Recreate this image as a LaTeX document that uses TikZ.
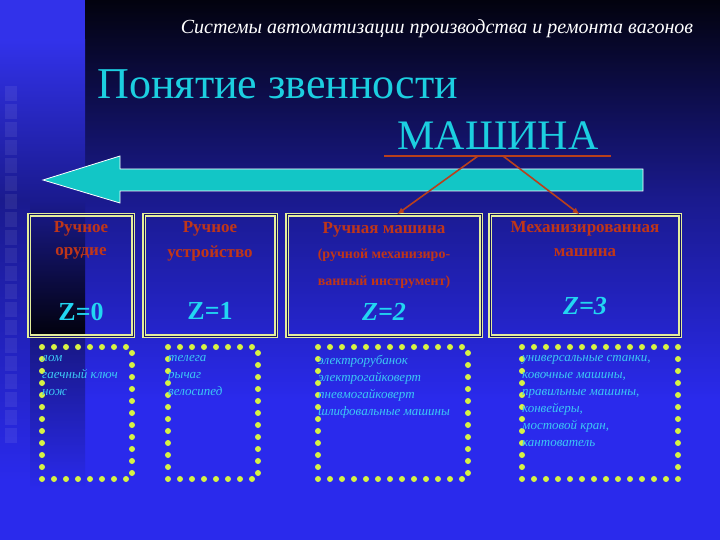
\documentclass[tikz,border=0pt]{standalone}
\usepackage{fontspec}
\setmainfont{Liberation Serif}
\usepackage{xcolor}
\usetikzlibrary{arrows.meta, positioning, calc}

\definecolor{bgtop}{HTML}{02020E}
\definecolor{bgmid}{HTML}{1A1A8E}
\definecolor{bgbot}{HTML}{2A2AEC}
\definecolor{stripblue}{HTML}{3232EA}
\definecolor{titlecyan}{HTML}{1CCFE0}
\definecolor{arrowcyan}{HTML}{12C6C6}
\definecolor{lvlred}{HTML}{C03618}
\definecolor{zcyan}{HTML}{22D6F2}
\definecolor{framey}{HTML}{E4EE9C}
\definecolor{doty}{HTML}{D6F244}
\definecolor{listcyan}{HTML}{3CC8F4}
\definecolor{linkred}{HTML}{B8401C}

\tikzset{
  lvlbox/.style={draw=framey, double=bgmid!70!black, double distance=1pt, line width=1.4pt, inner sep=0pt},
  lvltext/.style={text=lvlred, font=\fontsize{17}{20}\selectfont\bfseries},
  subtext/.style={text=lvlred, font=\fontsize{14}{16}\selectfont\bfseries},
  ztext/.style={text=zcyan, font=\fontsize{26}{30}\selectfont\bfseries},
  dotbox/.style={draw=doty, line width=6pt, line cap=round, dash pattern=on 0pt off 12pt, inner sep=0pt},
  listtext/.style={text=listcyan, font=\fontsize{13}{17}\selectfont\itshape, anchor=north west, align=left, inner sep=0pt},
  link/.style={draw=linkred, line width=1.6pt, -{Latex[length=7pt,width=6pt]}},
}

\begin{document}
\begin{tikzpicture}[x=1pt, y=-1pt]
    \useasboundingbox (0,0) rectangle (720,540);

    % Background
    \fill[bgbot] (0,0) rectangle (720,540);
    \shade[top color=bgtop, bottom color=bgbot, middle color=bgmid] (85,0) rectangle (720,400);
    % Left strip
    \fill[stripblue] (0,0) rectangle (85,40);
    \shade[top color=stripblue, bottom color=bgmid] (0,40) rectangle (85,200);
    \shade[top color=bgmid, bottom color=bgbot] (0,200) rectangle (30,480);
    \shade[top color=bgmid, bottom color=bgtop] (30,200) rectangle (85,335);
    \shade[top color=bgbot!55!black, bottom color=bgbot] (30,335) rectangle (85,490);
    \foreach \k in {0,...,19} {
        \fill[white, opacity=0.07] (5,{86+\k*18}) rectangle ++(12,15);
    }

    % Headings
    \node[text=white, font=\fontsize{20}{24}\selectfont\itshape] (subject) at (437,29)
        {Системы автоматизации производства и ремонта вагонов};
    \node[text=titlecyan, font=\fontsize{44}{50}\selectfont, anchor=west] (concept) at (94,84)
        {Понятие звенности};
    \node[text=titlecyan, font=\fontsize{42}{48}\selectfont] (mashina) at (498,136) {МАШИНА};

    % Underline and links
    \coordinate (ulL) at (384,156);
    \coordinate (ulR) at (611,156);
    \coordinate (ulA) at (478,156);
    \coordinate (ulB) at (503,156);
    \draw[linkred, line width=1.6pt] (ulL) -- (ulR);

    % Big arrow (direction of growth)
    \fill[arrowcyan, draw=white, line width=0.8pt]
        (643,169) -- (120,169) -- (120,156) -- (43,180) -- (120,203) -- (120,191) -- (643,191) -- cycle;

    % Level boxes
    \node[lvlbox, minimum width=104, minimum height=121] (lvlA) at (81,275.5) {};
    \node[lvlbox, minimum width=132, minimum height=121] (lvlB) at (210,275.5) {};
    \node[lvlbox, minimum width=194, minimum height=121] (lvlC) at (384,275.5) {};
    \node[lvlbox, minimum width=190, minimum height=121] (lvlD) at (585,275.5) {};

    \draw[link] (ulA) -- (lvlC.78);
    \draw[link] (ulB) -- (lvlD.95);

    % Level names
    \node[lvltext] (nameA1) at (81,229) {Ручное};
    \node[lvltext] (nameA2) at (81,253) {орудие};
    \node[lvltext] (nameB1) at (210,229) {Ручное};
    \node[lvltext] (nameB2) at (210,253) {устройство};
    \node[lvltext] (nameC1) at (384,230) {Ручная машина};
    \node[subtext] (nameC2) at (384,255) {(ручной механизиро-};
    \node[subtext] (nameC3) at (384,282) {ванный инструмент)};
    \node[lvltext] (nameD1) at (585,229) {Механизированная};
    \node[lvltext] (nameD2) at (585,253) {машина};

    % Z values
    \node[ztext] (zA) at (81,312) {Z=0};
    \node[ztext] (zB) at (210,311) {Z=1};
    \node[ztext, font=\fontsize{26}{30}\selectfont\bfseries\itshape] (zC) at (384,312) {Z=2};
    \node[ztext, font=\fontsize{26}{30}\selectfont\bfseries\itshape] (zD) at (585,306) {Z=3};

    % Example lists
    \node[dotbox, minimum width=90, minimum height=132] (listA) at (87,413) {};
    \node[dotbox, minimum width=90, minimum height=132] (listB) at (213,413) {};
    \node[dotbox, minimum width=150, minimum height=132] (listC) at (393,413) {};
    \node[dotbox, minimum width=156, minimum height=132] (listD) at (600,413) {};

    \node[listtext] (itemsA) at (42,355) {лом\\гаечный ключ\\нож};
    \node[listtext] (itemsB) at (168,355) {телега\\рычаг\\велосипед};
    \node[listtext] (itemsC) at (318,355) {электрорубанок\\электрогайковерт\\пневмогайковерт\\шлифовальные машины};
    \node[listtext] (itemsD) at (522,355) {универсальные станки,\\ковочные машины,\\правильные машины,\\конвейеры,\\мостовой кран,\\кантователь};
\end{tikzpicture}
\end{document}
